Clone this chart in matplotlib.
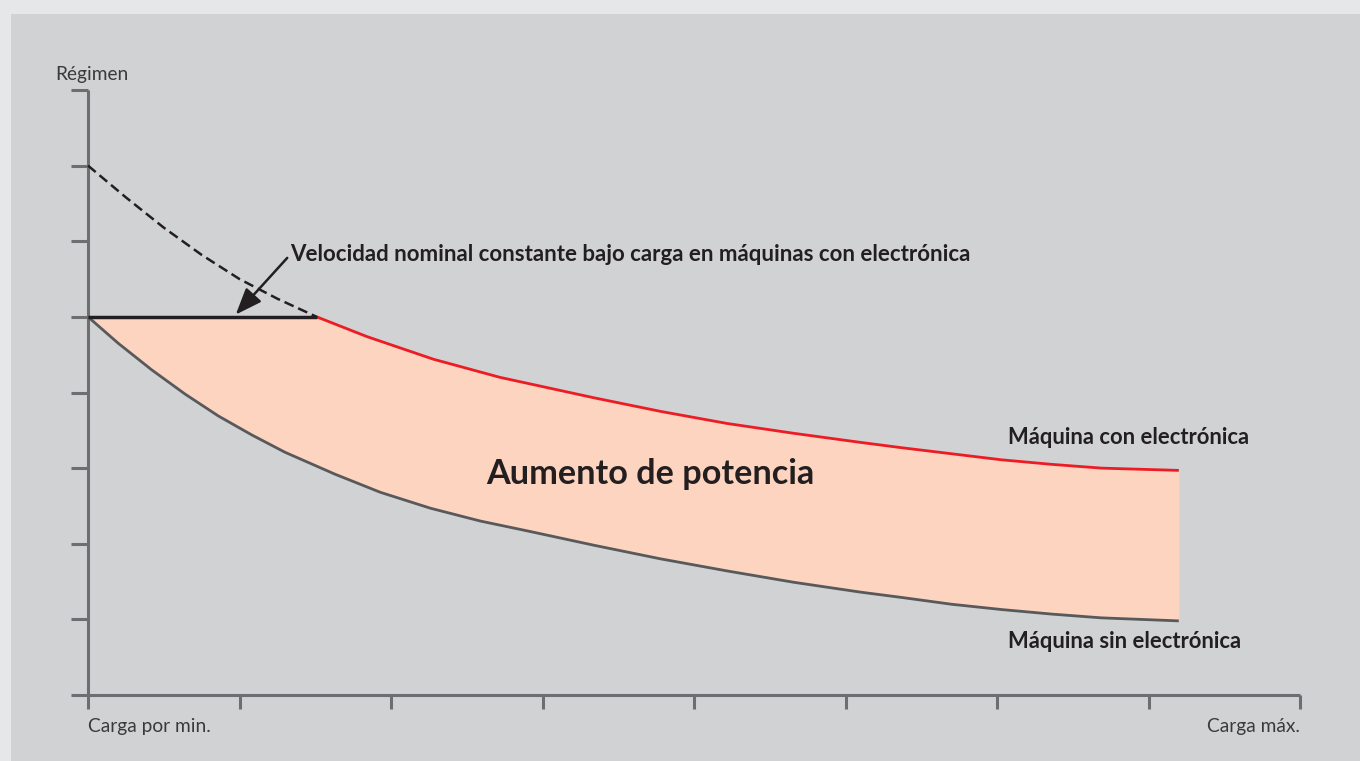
import matplotlib
matplotlib.use("Agg")
import numpy as np
import matplotlib.pyplot as plt
from matplotlib.patches import Rectangle

plt.rcParams['font.family'] = ['Lato', 'DejaVu Sans']

# curva sin electrónica (gris)
sin_x = [0, 0.2, 0.42, 0.64, 0.86, 1.08, 1.3, 1.63, 1.93, 2.26, 2.59, 2.9,
         3.34, 3.78, 4.22, 4.66, 5.1, 5.37, 5.7, 6.03, 6.36, 6.69, 7.2]
sin_y = [5.0, 4.65, 4.30, 3.98, 3.69, 3.44, 3.21, 2.92, 2.68, 2.47, 2.30, 2.17,
         1.98, 1.80, 1.64, 1.49, 1.36, 1.29, 1.20, 1.13, 1.07, 1.02, 0.98]

# curva con electrónica (roja) y tramo constante
con_x = [1.51, 1.84, 2.28, 2.72, 3.34, 3.78, 4.22, 4.66, 5.1, 5.37, 5.7,
         6.03, 6.36, 6.69, 7.2]
con_y = [5.0, 4.74, 4.44, 4.20, 3.93, 3.75, 3.59, 3.46, 3.34, 3.27, 3.19,
         3.11, 3.05, 3.0, 2.97]
flat_x = [0, 1.51]
flat_y = [5.0, 5.0]

# régimen sin regulación (discontinua)
dash_x = [0, 0.25, 0.5, 0.75, 1.0, 1.25, 1.51]
dash_y = [7.0, 6.58, 6.18, 5.82, 5.5, 5.24, 5.0]

xticks = [0, 1, 2, 3, 4, 5, 6, 7, 8]
yticks = [1, 2, 3, 4, 5, 6, 7, 8]

W, H = 1360, 761
fig = plt.figure(figsize=(W / 100, H / 100), dpi=100)
fig.patch.set_facecolor('#e6e7e8')
fig.patches.append(Rectangle((11 / W, 0), 1 - 11 / W, (H - 14) / H,
                             transform=fig.transFigure, facecolor='#d1d2d4',
                             edgecolor='none', zorder=-5))

ax = fig.add_axes([71 / W, (H - 695) / H, (1300 - 71) / W, (695 - 90) / H])
ax.set_facecolor('none')
ax.set_xlim(-17 / 151.3, 8)
ax.set_ylim(0, 8)

axis_col = '#6d6e71'
for s in ['top', 'right']:
    ax.spines[s].set_visible(False)
ax.spines['left'].set_position(('data', 0))
for s in ['left', 'bottom']:
    ax.spines[s].set_color(axis_col)
    ax.spines[s].set_linewidth(2.2)
    ax.spines[s].set_capstyle('butt')
ax.set_xticks(xticks)
ax.set_yticks(yticks)
ax.set_xticklabels([])
ax.set_yticklabels([])
ax.tick_params(axis='x', direction='out', length=10, width=2.2, color=axis_col)
ax.tick_params(axis='y', direction='out', length=12.2, width=2.2, color=axis_col)

# zona de aumento de potencia
upper_x = flat_x[:1] + con_x
upper_y = flat_y[:1] + con_y
fx = np.array(sin_x)
ax.fill_between(fx, sin_y, np.interp(fx, upper_x, upper_y), color='#fdd4c0',
                linewidth=0, zorder=1)
ax.fill_between(upper_x, np.interp(upper_x, sin_x, sin_y), upper_y,
                color='#fdd4c0', linewidth=0, zorder=1)

ax.plot(dash_x, dash_y, color='#231f20', lw=1.8, ls=(0, (4, 2)), zorder=3)
ax.plot(sin_x, sin_y, color='#58595b', lw=2.0, zorder=3, solid_capstyle='butt')
ax.plot(con_x, con_y, color='#ed1c24', lw=2.0, zorder=3, solid_capstyle='butt')
ax.plot(flat_x, flat_y, color='#231f20', lw=2.5, zorder=4, solid_capstyle='butt')

txt = '#231f20'
ax.annotate('', xy=(0.975, 5.03), xytext=(1.315, 5.78),
            arrowprops=dict(arrowstyle='-|>,head_length=0.9,head_width=0.35',
                            color=txt, lw=1.8, mutation_scale=18,
                            shrinkA=0, shrinkB=0),
            zorder=5)
ax.text(1.335, 5.82, 'Velocidad nominal constante bajo carga en máquinas con electrónica',
        fontsize=16, fontweight='bold', color=txt, va='center', ha='left')
ax.text(3.71, 2.92, 'Aumento de potencia', fontsize=24.7, fontweight='bold',
        color=txt, ha='center', va='center', zorder=5)
ax.text(6.07, 3.41, 'Máquina con electrónica', fontsize=15.8,
        fontweight='bold', color=txt, ha='left', va='center')
ax.text(6.07, 0.71, 'Máquina sin electrónica', fontsize=15.8,
        fontweight='bold', color=txt, ha='left', va='center')

lab = '#3a3a3c'
ax.text(-0.218, 8.2, 'Régimen', fontsize=13.8, color=lab, ha='left',
        va='center', clip_on=False)
ax.text(0, -0.42, 'Carga por min.', fontsize=13.8, color=lab, ha='left',
        va='center', clip_on=False)
ax.text(8, -0.42, 'Carga máx.', fontsize=13.8, color=lab, ha='right',
        va='center', clip_on=False)

fig.savefig('out.png', dpi=100, facecolor=fig.get_facecolor())
